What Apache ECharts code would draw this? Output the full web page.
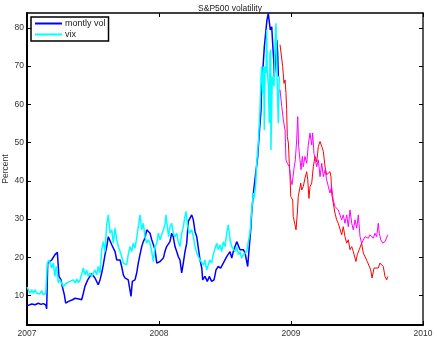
<!DOCTYPE html>
<html>
<head>
<meta charset="utf-8">
<script src="https://cdn.jsdelivr.net/npm/echarts@6/dist/echarts.min.js"></script>
<style>
  html, body { margin: 0; padding: 0; background: #fff; }
  #chart { width: 437px; height: 340px; }
</style>
</head>
<body>
<div id="chart"></div>
<script>
// S&P500 volatility, in percent, dates as decimal years.

// Monthly realised volatility up to the autumn 2008 peak (blue)
const volDates = [2007.000,2007.036,2007.061,2007.086,2007.106,2007.123,2007.142,2007.149,2007.157,2007.187,2007.212,2007.230,2007.237,2007.242,2007.258,2007.267,2007.283,2007.293,2007.311,2007.326,2007.345,2007.364,2007.379,2007.394,2007.414,2007.427,2007.439,2007.460,2007.477,2007.490,2007.502,2007.515,2007.528,2007.540,2007.553,2007.566,2007.578,2007.591,2007.604,2007.616,2007.629,2007.642,2007.654,2007.667,2007.680,2007.692,2007.705,2007.717,2007.730,2007.742,2007.755,2007.767,2007.780,2007.788,2007.798,2007.818,2007.831,2007.843,2007.856,2007.869,2007.881,2007.894,2007.907,2007.919,2007.932,2007.945,2007.957,2007.970,2007.983,2007.995,2008.008,2008.020,2008.033,2008.045,2008.058,2008.070,2008.083,2008.096,2008.108,2008.121,2008.134,2008.146,2008.159,2008.172,2008.184,2008.197,2008.210,2008.222,2008.235,2008.248,2008.260,2008.273,2008.286,2008.298,2008.311,2008.324,2008.331,2008.348,2008.366,2008.381,2008.399,2008.417,2008.432,2008.449,2008.467,2008.487,2008.500,2008.513,2008.525,2008.538,2008.551,2008.563,2008.576,2008.589,2008.601,2008.614,2008.626,2008.639,2008.652,2008.664,2008.672,2008.684,2008.695,2008.702,2008.715,2008.727,2008.748,2008.758,2008.773,2008.778,2008.790,2008.798,2008.808,2008.818,2008.828,2008.836,2008.843,2008.854,2008.861,2008.869,2008.873,2008.881,2008.892,2008.899,2008.904];
const volValues = [7.3,7.8,7.6,8.0,7.7,7.9,7.6,6.5,18.5,19.3,20.7,21.3,20.9,15.0,14.1,12.4,10.2,8.0,8.4,8.2,8.9,9.3,8.8,9.1,8.9,10.6,12.4,14.1,15.0,15.7,15.4,14.6,14.1,12.8,14.1,15.9,18.0,20.7,22.8,25.4,25.0,23.3,22.4,21.5,19.3,19.8,19.3,17.6,15.4,14.6,14.3,14.1,13.7,9.8,13.7,14.1,15.9,18.5,20.7,22.8,24.1,25.0,27.2,27.6,26.3,24.6,24.6,22.0,18.5,19.0,18.9,18.5,19.8,21.5,22.8,23.3,24.1,26.3,25.4,22.8,21.5,20.2,19.3,15.9,18.5,21.5,23.7,29.4,29.8,31.1,29.8,26.7,25.4,22.4,19.3,17.2,14.1,15.0,13.7,15.0,13.7,14.1,16.7,17.6,17.2,18.5,18.0,20.2,20.7,21.5,19.8,21.5,22.8,24.1,24.0,22.0,21.5,22.0,21.1,20.7,17.6,22.8,27.2,31.6,36.8,40.3,46.4,51.6,58.6,64.7,70.8,75.1,78.6,82.1,83.8,83.4,79.5,80.3,76.0,71.6,67.3,70.8,76.9,73.4,67.3];

// Monthly realised volatility after the peak (red)
const volLateDates = [2008.917,2008.930,2008.937,2008.947,2008.955,2008.962,2008.967,2008.972,2008.980,2008.987,2008.992,2008.998,2009.013,2009.017,2009.030,2009.038,2009.048,2009.055,2009.063,2009.074,2009.081,2009.093,2009.106,2009.119,2009.127,2009.136,2009.144,2009.157,2009.169,2009.182,2009.195,2009.207,2009.220,2009.233,2009.245,2009.258,2009.270,2009.283,2009.295,2009.303,2009.308,2009.320,2009.333,2009.346,2009.358,2009.371,2009.384,2009.396,2009.409,2009.422,2009.434,2009.447,2009.460,2009.472,2009.485,2009.492,2009.502,2009.517,2009.535,2009.548,2009.561,2009.578,2009.593,2009.604,2009.614,2009.629,2009.644,2009.661,2009.674,2009.687,2009.699,2009.712,2009.725,2009.733];
const volLateValues = [75.6,75.1,69.9,65.5,66.4,62.9,58.6,51.6,49.9,44.6,42.0,35.9,35.0,30.7,30.2,27.2,31.6,35.9,36.3,39.4,37.6,38.5,40.7,42.4,40.3,35.4,38.5,39.4,43.7,46.4,45.0,49.0,50.3,49.0,47.7,43.7,41.6,41.1,42.4,41.1,36.8,34.2,31.6,29.8,28.9,29.4,25.9,28.0,25.4,23.7,24.6,22.0,22.8,21.5,21.1,18.9,20.7,22.0,23.7,21.1,20.7,18.9,18.5,16.7,14.6,17.2,16.7,17.2,18.5,18.9,17.6,15.0,14.1,15.0];

// VIX up to the peak (cyan)
const vixDates = [2007.000,2007.010,2007.023,2007.036,2007.048,2007.061,2007.073,2007.086,2007.098,2007.111,2007.123,2007.142,2007.149,2007.154,2007.167,2007.174,2007.187,2007.199,2007.212,2007.220,2007.230,2007.237,2007.250,2007.263,2007.275,2007.288,2007.301,2007.313,2007.326,2007.339,2007.351,2007.364,2007.377,2007.389,2007.402,2007.414,2007.427,2007.439,2007.452,2007.464,2007.477,2007.490,2007.502,2007.515,2007.528,2007.540,2007.553,2007.566,2007.578,2007.591,2007.604,2007.616,2007.629,2007.642,2007.654,2007.667,2007.680,2007.692,2007.705,2007.717,2007.730,2007.742,2007.755,2007.767,2007.780,2007.793,2007.805,2007.818,2007.831,2007.843,2007.856,2007.869,2007.881,2007.894,2007.907,2007.919,2007.932,2007.945,2007.957,2007.970,2007.983,2007.995,2008.008,2008.020,2008.033,2008.045,2008.053,2008.063,2008.073,2008.083,2008.096,2008.108,2008.121,2008.134,2008.146,2008.159,2008.172,2008.184,2008.197,2008.205,2008.214,2008.229,2008.248,2008.260,2008.273,2008.286,2008.298,2008.311,2008.324,2008.336,2008.348,2008.361,2008.373,2008.386,2008.399,2008.411,2008.424,2008.437,2008.449,2008.462,2008.475,2008.487,2008.500,2008.513,2008.525,2008.538,2008.551,2008.563,2008.576,2008.589,2008.601,2008.614,2008.626,2008.639,2008.652,2008.664,2008.677,2008.689,2008.702,2008.715,2008.722,2008.733,2008.740,2008.752,2008.765,2008.773,2008.778,2008.786,2008.793,2008.798,2008.803,2008.811,2008.816,2008.820,2008.828,2008.836,2008.841,2008.846,2008.848,2008.858,2008.871,2008.879,2008.886,2008.894,2008.904,2008.911];
const vixValues = [12.2,11.9,10.6,11.5,10.6,11.5,10.6,11.1,10.4,11.3,10.2,10.6,10.6,18.5,19.3,19.8,17.2,18.5,15.0,17.6,15.9,13.3,14.1,13.7,12.4,12.8,13.3,12.8,13.7,13.3,14.1,13.3,14.3,13.3,14.1,13.7,17.2,15.4,16.7,15.0,15.9,15.0,15.4,16.7,15.4,17.6,15.9,22.0,24.1,21.5,28.5,31.1,26.3,27.2,23.7,27.6,24.6,22.8,21.5,20.2,18.5,18.9,18.0,20.7,22.8,21.5,23.7,22.4,25.0,28.0,31.1,27.2,28.9,25.4,23.7,24.6,23.7,21.5,18.9,22.8,23.7,26.3,24.6,24.1,27.2,28.5,31.1,28.0,25.4,28.0,28.9,26.3,25.4,26.3,24.1,22.8,26.3,28.0,30.7,32.0,28.9,26.3,27.2,25.4,22.8,21.1,20.2,19.3,19.8,18.0,19.3,16.7,18.0,19.3,18.5,20.7,20.2,23.7,22.0,23.3,21.5,24.1,22.8,26.3,28.5,24.6,22.8,22.4,21.5,22.8,20.7,21.5,19.8,20.7,20.2,21.5,24.1,26.3,32.4,36.8,35.5,39.4,44.6,49.9,58.6,67.3,69.9,62.9,69.9,53.3,69.9,68.2,79.5,69.0,65.5,55.1,73.4,74.3,48.1,67.3,64.7,76.0,81.2,67.3,55.1,67.3];

// VIX after the peak (magenta)
const vixLateDates = [2008.917,2008.930,2008.942,2008.955,2008.962,2008.972,2008.987,2008.998,2009.008,2009.017,2009.023,2009.033,2009.043,2009.051,2009.058,2009.068,2009.076,2009.086,2009.093,2009.106,2009.119,2009.131,2009.144,2009.157,2009.164,2009.174,2009.184,2009.195,2009.207,2009.220,2009.233,2009.245,2009.258,2009.270,2009.283,2009.295,2009.308,2009.320,2009.333,2009.346,2009.358,2009.371,2009.384,2009.396,2009.409,2009.422,2009.434,2009.447,2009.460,2009.472,2009.485,2009.498,2009.510,2009.523,2009.535,2009.548,2009.561,2009.573,2009.586,2009.598,2009.611,2009.624,2009.636,2009.649,2009.661,2009.669,2009.680,2009.695,2009.712,2009.725,2009.733];
const vixLateValues = [63.8,59.4,55.9,53.3,45.5,44.6,43.7,40.3,39.0,39.4,43.3,45.5,50.7,56.8,49.0,45.5,42.9,46.4,43.7,46.4,44.6,49.4,52.5,49.4,52.5,47.2,45.5,43.7,45.5,41.1,44.6,41.1,42.9,40.3,38.5,36.8,38.5,35.0,33.3,33.7,32.4,32.9,29.8,31.1,28.9,31.1,28.0,32.4,28.9,27.2,29.8,27.6,31.1,25.4,23.7,24.1,25.4,25.9,25.0,25.9,25.4,25.0,26.3,25.4,28.9,26.3,24.6,23.7,24.1,23.7,25.9];

// Axis ticks
const yTicks = [10, 20, 30, 40, 50, 60, 70, 80];
const xTickLabels = ['2007', '2008', '2009', '2010'];

const zip = (xs, ys) => xs.map((x, i) => [x, ys[i]]);

const textColor = '#333';
const font = 'Liberation Sans, Arial, Helvetica, sans-serif';

const chart = echarts.init(document.getElementById('chart'), null, { renderer: 'canvas' });

const lineSeries = (name, xs, ys, color, width) => ({
  name: name,
  type: 'line',
  data: zip(xs, ys),
  showSymbol: false,
  symbol: 'none',
  lineStyle: { color: color, width: width },
  itemStyle: { color: color },
  clip: true,
  silent: true
});

chart.setOption({
  animation: false,
  backgroundColor: '#fff',
  title: {
    text: 'S&P500 volatility',
    left: 225,
    textAlign: 'center',
    top: -1,
    textStyle: { fontSize: 8.5, fontWeight: 'normal', color: '#222', fontFamily: font }
  },
  legend: {
    data: ['montly vol', 'vix'],
    orient: 'vertical',
    left: 31,
    top: 17,
    padding: [2, 3, 2, 4],
    itemGap: 2,
    itemWidth: 27,
    itemHeight: 2,
    icon: 'rect',
    borderColor: '#000',
    borderWidth: 1.5,
    backgroundColor: '#fff',
    textStyle: { fontSize: 9, color: '#222', fontFamily: font, padding: [0, 0, 0, -2] },
    selectedMode: false
  },
  grid: { left: 27, right: 14, top: 13, bottom: 15, containLabel: false, outerBoundsMode: 'none' },
  xAxis: [
    {
      type: 'value',
      min: 2007,
      max: 2010,
      interval: 1,
      position: 'bottom',
      axisLine: { show: true, onZero: false, lineStyle: { color: '#000', width: 2 } },
      axisTick: { show: true, inside: true, length: 4, lineStyle: { color: '#000', width: 1 } },
      axisLabel: {
        show: true,
        margin: 4,
        color: textColor,
        fontSize: 8.5,
        fontFamily: font,
        formatter: (v) => xTickLabels[Math.round(v) - 2007] || ''
      },
      splitLine: { show: false }
    },
    {
      type: 'value',
      min: 2007,
      max: 2010,
      interval: 1,
      position: 'top',
      axisLine: { show: true, onZero: false, lineStyle: { color: '#000', width: 1.5 } },
      axisTick: { show: true, inside: true, length: 4, lineStyle: { color: '#000', width: 1 } },
      axisLabel: { show: false },
      splitLine: { show: false }
    }
  ],
  yAxis: [
    {
      type: 'value',
      min: 2.3,
      max: 83.9,
      position: 'left',
      name: 'Percent',
      nameLocation: 'middle',
      nameGap: 17,
      nameMoveOverlap: false,
      nameRotate: 90,
      nameTextStyle: { fontSize: 8.5, color: textColor, fontFamily: font },
      axisLine: { show: true, onZero: false, lineStyle: { color: '#000', width: 2 } },
      axisTick: { show: true, inside: true, length: 4, customValues: yTicks, lineStyle: { color: '#000', width: 1 } },
      axisLabel: { show: true, margin: 3, color: textColor, fontSize: 8.5, fontFamily: font, customValues: yTicks, formatter: (v) => String(v) },
      splitLine: { show: false }
    },
    {
      type: 'value',
      min: 2.3,
      max: 83.9,
      position: 'right',
      axisLine: { show: true, onZero: false, lineStyle: { color: '#222', width: 1.5 } },
      axisTick: { show: true, inside: true, length: 4, customValues: yTicks, lineStyle: { color: '#000', width: 1 } },
      axisLabel: { show: false, customValues: yTicks },
      splitLine: { show: false }
    }
  ],
  series: [
    lineSeries('montly vol', volDates, volValues, '#0000ff', 1.5),
    lineSeries('vix', vixDates, vixValues, '#00ffff', 1.5),
    lineSeries('montly vol, late', volLateDates, volLateValues, '#ff0000', 1),
    lineSeries('vix, late', vixLateDates, vixLateValues, '#ff00ff', 1)
  ]
});
</script>
</body>
</html>
